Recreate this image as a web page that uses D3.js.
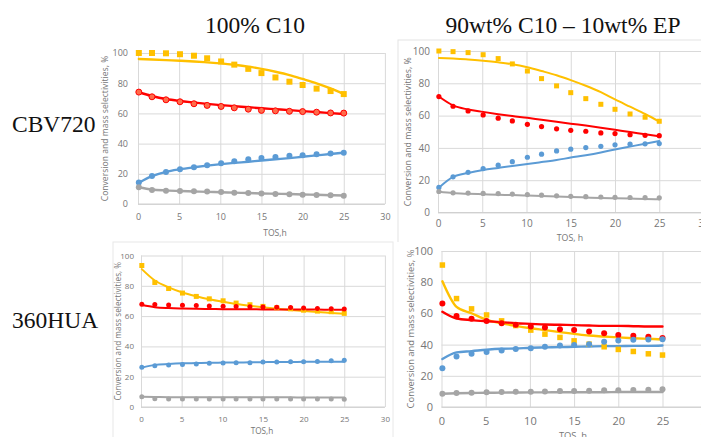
<!DOCTYPE html>
<html>
<head>
<meta charset="utf-8">
<script src="https://cdn.jsdelivr.net/npm/d3@7"></script>
<style>
  body { margin: 0; background: #fff; }
  svg { display: block; }
</style>
</head>
<body>
<svg id="chart"></svg>
<script>
// time on stream, h (same sampling for every panel)
const tos = [0.1, 1.7, 3.4, 5.1, 6.8, 8.4, 10.1, 11.7, 13.4, 15.0, 16.7, 18.4, 20.0, 21.7, 23.4, 25.0];
const xTicks = [0, 5, 10, 15, 20, 25, 30];
const yTicks = [0, 20, 40, 60, 80, 100];
const columnTitles = ['100% C10', '90wt% C10 \u2013 10wt% EP'];
const rowTitles = ['CBV720', '360HUA'];
const yTitle = 'Conversion and mass selectivities, %';
const xTitles = ['TOS,h', 'TOS, h', 'TOS,h', 'TOS, h'];

// CBV720, 100% C10
const cbvC10Conv = [100, 100, 99.8, 99.2, 98.2, 96.5, 94.4, 92.3, 89.5, 86.7, 83.8, 81.0, 78.8, 76.4, 74.8, 72.8];
const cbvC10ConvFit = [96.0, 95.7, 95.3, 94.9, 94.4, 93.8, 93.1, 92.2, 91.0, 89.5, 87.6, 85.4, 82.8, 79.9, 76.5, 72.8];
const cbvC10Red = [74.1, 71.0, 69.0, 67.7, 66.4, 65.3, 64.6, 63.7, 62.8, 62.0, 61.7, 61.4, 61.2, 60.8, 60.3, 60.2];
const cbvC10RedFit = [74.0, 71.5, 69.5, 68.2, 67.2, 66.3, 65.5, 64.8, 64.1, 63.4, 62.8, 62.2, 61.5, 60.9, 60.2, 59.6];
const cbvC10Blue = [14.2, 18.6, 21.2, 23.0, 24.3, 25.7, 27.0, 28.3, 29.6, 30.5, 31.2, 31.9, 32.3, 33.0, 33.5, 34.0];
const cbvC10BlueFit = [14.0, 18.4, 21.3, 23.0, 24.3, 25.4, 26.4, 27.2, 28.0, 28.8, 29.6, 30.4, 31.3, 32.2, 33.1, 34.0];
const cbvC10Gray = [11.1, 9.3, 8.8, 8.6, 8.4, 8.2, 8.0, 7.5, 7.3, 6.9, 6.6, 6.4, 6.2, 6.0, 5.8, 5.5];
const cbvC10GrayFit = [11.1, 9.6, 9.0, 8.6, 8.3, 8.0, 7.8, 7.5, 7.3, 7.0, 6.8, 6.6, 6.3, 6.1, 5.8, 5.6];

// CBV720, 90wt% C10 - 10wt% EP
const cbvMixConv = [100, 99.6, 99.0, 97.7, 95.3, 92.0, 87.6, 82.9, 78.4, 74.2, 70.5, 67.0, 63.9, 61.0, 59.0, 56.5];
const cbvMixConvFit = [95.7, 95.3, 94.8, 94.0, 93.0, 91.8, 89.9, 87.6, 85.0, 82.0, 78.5, 74.5, 70.0, 65.5, 61.0, 56.3];
const cbvMixRed = [71.8, 65.8, 62.9, 60.4, 58.4, 56.7, 54.6, 53.2, 51.8, 50.9, 50.3, 49.3, 48.9, 48.2, 47.8, 47.6];
const cbvMixRedFit = [71.8, 66.3, 63.8, 62.3, 60.9, 59.7, 58.6, 57.4, 56.2, 55.0, 53.8, 52.5, 51.2, 49.8, 48.5, 47.2];
const cbvMixBlue = [15.5, 22.1, 24.9, 27.2, 29.3, 31.5, 34.2, 36.1, 38.1, 39.2, 40.2, 41.0, 41.9, 42.3, 42.5, 42.7];
const cbvMixBlueFit = [15.3, 22.0, 24.5, 26.3, 27.6, 28.8, 30.0, 31.2, 32.5, 34.0, 35.5, 37.2, 39.0, 40.8, 42.6, 44.3];
const cbvMixGray = [13.0, 12.2, 12.0, 11.8, 11.7, 11.4, 11.1, 10.7, 10.3, 10.0, 9.8, 9.6, 9.4, 9.3, 9.2, 9.1];
const cbvMixGrayFit = [12.8, 12.0, 11.6, 11.3, 11.0, 10.8, 10.5, 10.2, 9.9, 9.6, 9.3, 9.0, 8.8, 8.6, 8.4, 8.2];

// 360HUA, 100% C10
const huaC10Conv = [93.4, 82.2, 78.2, 75.2, 73.0, 71.4, 70.1, 68.6, 67.5, 66.4, 65.5, 64.8, 63.9, 63.3, 62.9, 61.8];
const huaC10ConvFit = [91.0, 83.5, 79.0, 75.6, 73.1, 71.1, 69.4, 68.0, 66.8, 65.8, 64.9, 64.1, 63.4, 62.7, 62.1, 61.5];
const huaC10Red = [67.8, 67.7, 67.4, 67.2, 67.0, 66.7, 66.5, 66.3, 66.2, 66.0, 65.8, 65.6, 65.3, 65.0, 64.8, 64.7];
const huaC10RedFit = [67.3, 65.9, 65.3, 65.0, 64.8, 64.7, 64.6, 64.5, 64.5, 64.4, 64.4, 64.3, 64.3, 64.3, 64.2, 64.2];
const huaC10Blue = [26.2, 27.3, 27.7, 28.1, 28.4, 28.8, 29.0, 29.2, 29.2, 29.7, 29.7, 29.9, 29.9, 30.1, 30.5, 30.8];
const huaC10BlueFit = [26.0, 27.8, 28.4, 28.8, 29.0, 29.2, 29.3, 29.4, 29.5, 29.6, 29.7, 29.7, 29.8, 29.8, 29.9, 29.9];
const huaC10Gray = [6.8, 5.5, 5.3, 5.3, 5.3, 5.3, 5.3, 5.3, 5.3, 5.3, 5.3, 5.3, 5.3, 5.2, 5.2, 5.1];
const huaC10GrayFit = [6.7, 6.6, 6.5, 6.5, 6.5, 6.4, 6.4, 6.4, 6.4, 6.4, 6.4, 6.4, 6.3, 6.3, 6.3, 6.3];

// 360HUA, 90wt% C10 - 10wt% EP
const huaMixConv = [91.0, 69.5, 62.9, 59.0, 55.2, 52.2, 49.3, 46.7, 44.6, 42.4, 40.3, 38.6, 36.9, 35.6, 34.1, 33.3];
const huaMixConvFit = [80.6, 64.2, 60.1, 55.9, 53.7, 52.0, 50.5, 49.3, 48.0, 46.9, 45.8, 45.2, 44.6, 44.1, 43.7, 43.3];
const huaMixRed = [66.3, 58.4, 56.5, 55.2, 53.7, 52.7, 51.6, 51.0, 49.9, 49.3, 48.4, 47.2, 46.1, 45.6, 45.0, 44.3];
const huaMixRedFit = [61.0, 56.7, 55.7, 55.0, 54.4, 53.7, 53.3, 52.9, 52.7, 52.5, 52.2, 52.0, 52.0, 51.8, 51.6, 51.6];
const huaMixBlue = [24.9, 32.4, 34.1, 35.2, 36.2, 37.1, 37.7, 38.6, 39.4, 39.7, 40.3, 41.8, 42.6, 43.1, 43.3, 43.5];
const huaMixBlueFit = [30.7, 35.0, 35.8, 36.7, 37.3, 37.5, 38.0, 38.2, 38.4, 38.6, 38.8, 39.0, 39.0, 39.2, 39.2, 39.4];
const huaMixGray = [8.5, 9.0, 9.2, 9.4, 9.6, 9.8, 9.8, 10.0, 10.2, 10.2, 10.4, 10.7, 10.7, 10.9, 11.1, 11.3];
const huaMixGrayFit = [8.5, 8.8, 9.0, 9.1, 9.2, 9.3, 9.4, 9.4, 9.5, 9.5, 9.5, 9.5, 9.6, 9.6, 9.6, 9.6];

const COLORS = { conv: '#FFC000', red: '#FF0000', blue: '#5B9BD5', gray: '#A5A5A5' };
const W = 701;
const H = 437;

const svg = d3.select('#chart').attr('width', W).attr('height', H);

// each panel is a pasted Excel chart with its own size
const panels = [
  {
    box: null, x0: 138, xPerUnit: 8.23, yBottom: 204, yTop: 53,
    tickFont: 9, titleFont: 8.6, tickRight: 128, xTickY: 217, yTitleX: 105, xTitleX: 275, xTitleY: 233,
    lineW: 2.4, r: 3, sq: 6,
    series: [
      { key: 'conv', pts: cbvC10Conv, fit: cbvC10ConvFit, shape: 'square' },
      { key: 'red', pts: cbvC10Red, fit: cbvC10RedFit, shape: 'circle', fill: '#FF6B4A' },
      { key: 'blue', pts: cbvC10Blue, fit: cbvC10BlueFit, shape: 'circle' },
      { key: 'gray', pts: cbvC10Gray, fit: cbvC10GrayFit, shape: 'circle' },
    ],
  },
  {
    box: [398, 40, 320, 205], stroke: '#e4e4e4', x0: 438, xPerUnit: 8.85, yBottom: 212.5, yTop: 51,
    tickFont: 10, titleFont: 8.8, tickRight: 430, xTickY: 223.5, yTitleX: 408, xTitleX: 570, xTitleY: 238,
    lineW: 2, r: 2.6, sq: 5,
    series: [
      { key: 'conv', pts: cbvMixConv, fit: cbvMixConvFit, shape: 'square' },
      { key: 'red', pts: cbvMixRed, fit: cbvMixRedFit, shape: 'circle' },
      { key: 'blue', pts: cbvMixBlue, fit: cbvMixBlueFit, shape: 'circle' },
      { key: 'gray', pts: cbvMixGray, fit: cbvMixGrayFit, shape: 'circle' },
    ],
  },
  {
    box: [113, 242, 280, 200], stroke: '#e8e8e8', x0: 141, xPerUnit: 8.13, yBottom: 407, yTop: 255.5,
    tickFont: 8, titleFont: 8.2, tickRight: 134, xTickY: 419.5, yTitleX: 118, xTitleX: 262, xTitleY: 431,
    lineW: 2, r: 2.5, sq: 5,
    series: [
      { key: 'conv', pts: huaC10Conv, fit: huaC10ConvFit, shape: 'square' },
      { key: 'red', pts: huaC10Red, fit: huaC10RedFit, shape: 'circle' },
      { key: 'blue', pts: huaC10Blue, fit: huaC10BlueFit, shape: 'circle' },
      { key: 'gray', pts: huaC10Gray, fit: huaC10GrayFit, shape: 'circle' },
    ],
  },
  {
    box: [397, 242, 320, 200], stroke: 'none', x0: 441.5, xPerUnit: 8.84, yBottom: 407, yTop: 251,
    tickFont: 11, titleFont: 9.4, tickRight: 433, xTickY: 421.5, yTitleX: 411, xTitleX: 573, xTitleY: 436,
    lineW: 2.4, r: 3, sq: 5.5,
    series: [
      { key: 'conv', pts: huaMixConv, fit: huaMixConvFit, shape: 'square' },
      { key: 'red', pts: huaMixRed, fit: huaMixRedFit, shape: 'circle' },
      { key: 'blue', pts: huaMixBlue, fit: huaMixBlueFit, shape: 'circle' },
      { key: 'gray', pts: huaMixGray, fit: huaMixGrayFit, shape: 'circle' },
    ],
  },
];

function drawPanel(p, i) {
  const g = svg.append('g').attr('class', 'panel panel-' + i);

  // white backing, so a later panel covers what sticks out of an earlier one
  if (p.box) {
    g.append('rect')
      .attr('x', p.box[0]).attr('y', p.box[1])
      .attr('width', p.box[2]).attr('height', p.box[3])
      .attr('fill', '#fff')
      .attr('stroke', p.stroke);
  }

  const x = d3.scaleLinear().domain([0, 30]).range([p.x0, p.x0 + 30 * p.xPerUnit]);
  const y = d3.scaleLinear().domain([0, 100]).range([p.yBottom, p.yTop]);
  const plotW = x(30) - x(0);
  const plotH = p.yBottom - p.yTop;
  const font = "'Open Sans', 'Liberation Sans', sans-serif";

  // grid + tick labels through the axes
  const yAxis = g.append('g')
    .attr('transform', `translate(${x(0)},0)`)
    .call(d3.axisLeft(y).tickValues(yTicks).tickSize(-plotW).tickPadding(x(0) - p.tickRight));
  const xAxis = g.append('g')
    .attr('transform', `translate(0,${p.yBottom})`)
    .call(d3.axisBottom(x).tickValues(xTicks).tickSize(-plotH).tickPadding(0));
  [yAxis, xAxis].forEach(a => {
    a.select('.domain').remove();
    a.selectAll('line').attr('stroke', '#d9d9d9').attr('stroke-width', 1);
    a.selectAll('text')
      .attr('fill', '#767676')
      .style('font-family', font)
      .style('font-size', p.tickFont + 'px');
  });
  xAxis.selectAll('text').attr('y', p.xTickY - p.yBottom).attr('dy', '0.35em');
  g.append('line')
    .attr('x1', x(0)).attr('x2', x(30))
    .attr('y1', p.yBottom).attr('y2', p.yBottom)
    .attr('stroke', '#d0d0d0');

  // fitted curves
  const line = d3.line()
    .x((d, k) => x(tos[k]))
    .y(d => y(d))
    .curve(d3.curveMonotoneX);
  p.series.forEach(s => {
    g.append('path')
      .datum(s.fit)
      .attr('d', line)
      .attr('fill', 'none')
      .attr('stroke', COLORS[s.key])
      .attr('stroke-width', p.lineW)
      .attr('stroke-linecap', 'round');
  });

  // measured points
  p.series.forEach(s => {
    const pts = g.append('g').selectAll('.pt').data(s.pts).enter();
    if (s.shape === 'square') {
      pts.append('rect')
        .attr('x', (d, k) => x(tos[k]) - p.sq / 2)
        .attr('y', d => y(d) - p.sq / 2)
        .attr('width', p.sq).attr('height', p.sq)
        .attr('fill', COLORS[s.key]);
    } else {
      pts.append('circle')
        .attr('cx', (d, k) => x(tos[k]))
        .attr('cy', d => y(d))
        .attr('r', p.r)
        .attr('fill', s.fill || COLORS[s.key])
        .attr('stroke', s.fill ? COLORS[s.key] : 'none')
        .attr('stroke-width', 1);
    }
  });

  // axis titles (positions are text centres)
  g.append('text')
    .attr('transform', `translate(${p.yTitleX},${(p.yBottom + p.yTop) / 2}) rotate(-90)`)
    .attr('text-anchor', 'middle')
    .attr('dy', '0.35em')
    .attr('fill', '#767676')
    .style('font-family', font)
    .style('font-size', p.titleFont + 'px')
    .text(yTitle);
  g.append('text')
    .attr('x', p.xTitleX).attr('y', p.xTitleY)
    .attr('text-anchor', 'middle')
    .attr('dy', '0.35em')
    .attr('fill', '#767676')
    .style('font-family', font)
    .style('font-size', p.titleFont + 'px')
    .text(xTitles[i]);
}

panels.forEach(drawPanel);

// column and row headings
const serif = "'Liberation Serif', 'Times New Roman', serif";
svg.append('g').selectAll('text')
  .data(columnTitles)
  .enter()
  .append('text')
  .attr('x', (d, i) => [255, 563][i])
  .attr('y', 33)
  .attr('text-anchor', 'middle')
  .style('font-family', serif)
  .style('font-size', '23.5px')
  .attr('fill', '#111')
  .text(d => d);
svg.append('g').selectAll('text')
  .data(rowTitles)
  .enter()
  .append('text')
  .attr('x', 12)
  .attr('y', (d, i) => [132, 328][i])
  .style('font-family', serif)
  .style('font-size', '23.5px')
  .attr('fill', '#111')
  .text(d => d);
</script>
</body>
</html>
